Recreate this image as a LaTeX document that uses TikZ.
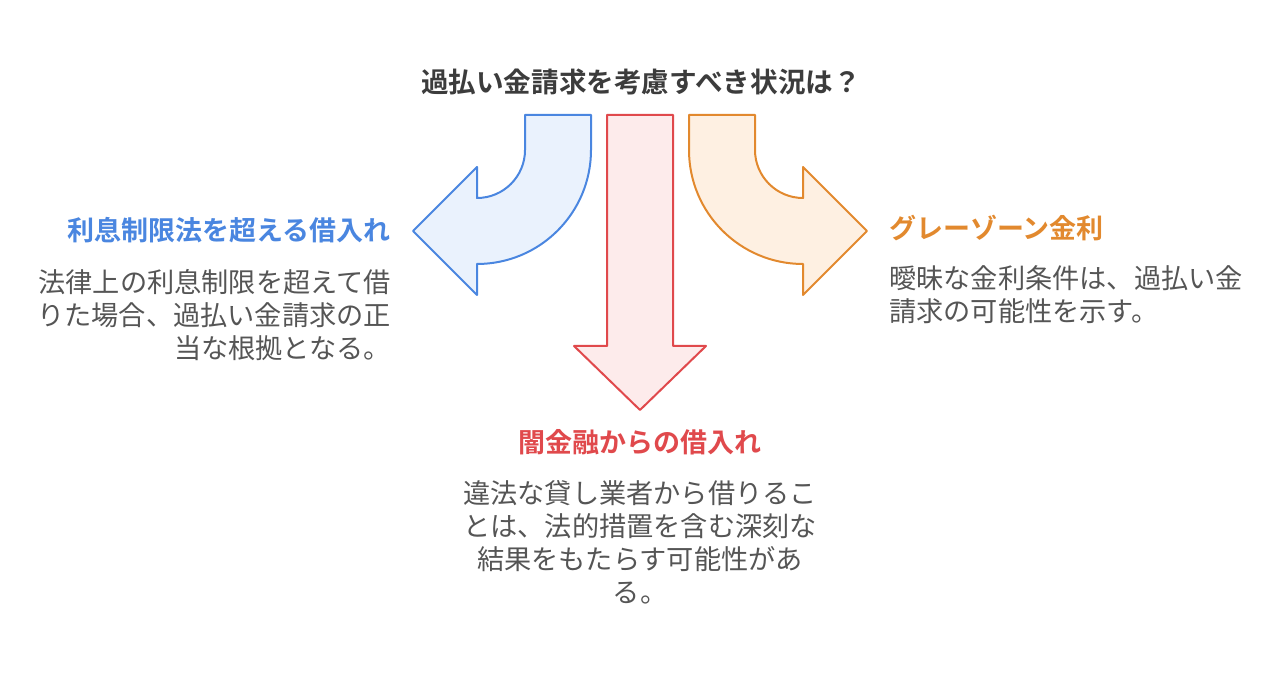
\documentclass[tikz,border=0pt]{standalone}
\usepackage{fontspec}
\usepackage{xcolor}
\newfontfamily\jp[BoldFont={Noto Sans CJK JP Bold}]{Noto Sans CJK JP}
\definecolor{azul}{HTML}{4A86E0}
\definecolor{azulclaro}{HTML}{EAF2FD}
\definecolor{vermelho}{HTML}{E0494C}
\definecolor{vermelhoclaro}{HTML}{FDEBEB}
\definecolor{laranja}{HTML}{E2892E}
\definecolor{laranjaclaro}{HTML}{FEF0E2}
\definecolor{escuro}{HTML}{3C3C3C}
\definecolor{cinza}{HTML}{555555}

\begin{document}
\begin{tikzpicture}[x=1pt,y=1pt,
    seta/.style={line width=2pt, line join=round},
    cabeca/.style={font={\jp\bfseries\fontsize{27}{33}\selectfont}, inner sep=0},
    corpo/.style={font={\jp\fontsize{27.2}{33}\selectfont}, text=cinza, inner sep=0}]
            \useasboundingbox (0,0) rectangle (1280,674);
            % Pergunta
            \node at (641,592) (n0) [cabeca, font={\jp\bfseries\fontsize{27.6}{33}\selectfont}, text=escuro] {過払い金請求を考慮すべき状況は？};
            % Seta azul (esquerda)
            \draw[seta, draw=azul, fill=azulclaro] (525,559) -- (591,559) -- (591,524)
                arc[start angle=0, end angle=-90, radius=114] -- (477,379) -- (413,443)
                -- (477,507) -- (477,476) arc[start angle=-90, end angle=0, radius=48] -- cycle;
            % Seta vermelha (baixo)
            \draw[seta, draw=vermelho, fill=vermelhoclaro] (607,559) -- (673,559) -- (673,328)
                -- (706,328) -- (640,264) -- (574,328) -- (607,328) -- cycle;
            % Seta laranja (direita)
            \draw[seta, draw=laranja, fill=laranjaclaro] (755,559) -- (689,559) -- (689,524)
                arc[start angle=180, end angle=270, radius=114] -- (803,379) -- (867,443)
                -- (803,507) -- (803,476) arc[start angle=270, end angle=180, radius=48] -- cycle;
            % Textos
            \node at (391,444) (n1) [cabeca, text=azul, anchor=east] {利息制限法を超える借入れ};
            \node at (391,359) (n2) [corpo, anchor=east, align=right] {法律上の利息制限を超えて借\\りた場合、過払い金請求の正\\当な根拠となる。};
            \node at (640,232) (n3) [cabeca, text=vermelho] {闇金融からの借入れ};
            \node at (640,132) (n4) [corpo, align=center] {違法な貸し業者から借りるこ\\とは、法的措置を含む深刻な\\結果をもたらす可能性があ\\る。};
            \node at (889,446) (n5) [cabeca, text=laranja, anchor=west] {グレーゾーン金利};
            \node at (889,379) (n6) [corpo, anchor=west, align=left] {曖昧な金利条件は、過払い金\\請求の可能性を示す。};
        \end{tikzpicture}
\end{document}
